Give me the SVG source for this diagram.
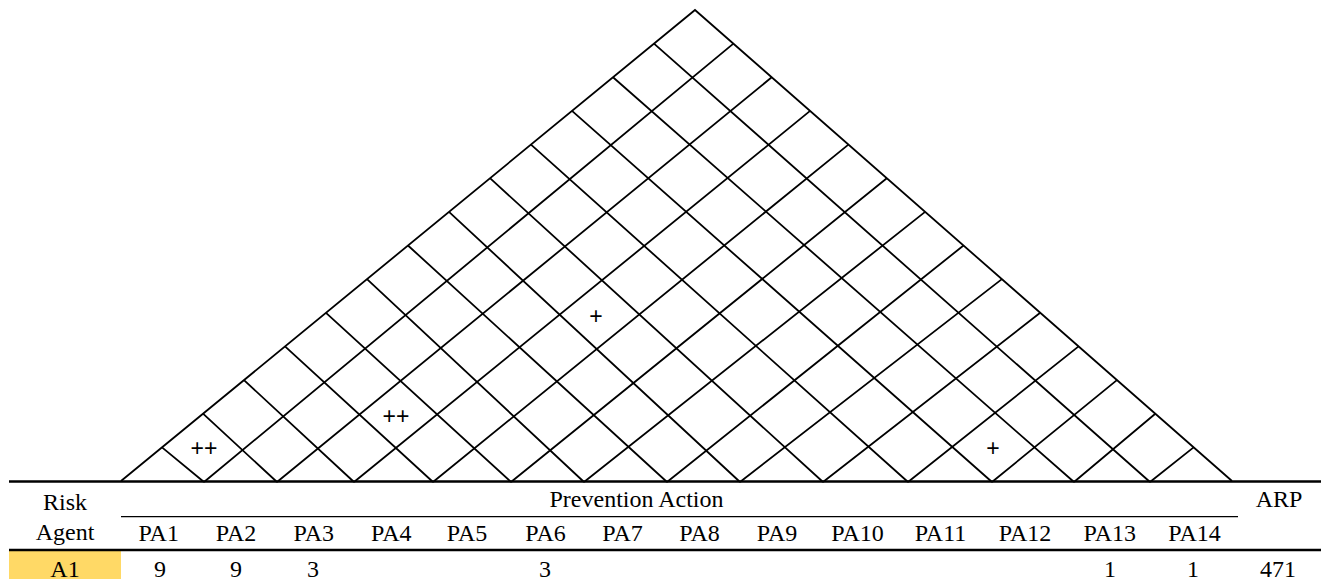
<svg xmlns="http://www.w3.org/2000/svg" width="1321" height="579" viewBox="0 0 1321 579">
<style>
.g{stroke:#000;stroke-width:1.8;fill:none;stroke-linecap:butt}
.thick{stroke:#000;stroke-width:2.4}
.thin{stroke:#000;stroke-width:1.2}
</style>
<rect x="0" y="0" width="1321" height="579" fill="#fff"/>
<g id="roof">
<path class="g" d="M121,481 L695,10 L1232,481"/>
<g id="roof-lines" class="g">
<path d="M204,482 L162,447.4 M204,482 L733.4,43.6"/>
<path d="M277,482 L203,413.7 M277,482 L771.7,77.3"/>
<path d="M354,482 L244,380.1 M354,482 L810.1,110.9"/>
<path d="M433,482 L285,346.4 M433,482 L848.4,144.6"/>
<path d="M511,482 L326,312.8 M511,482 L886.8,178.2"/>
<path d="M584,482 L367,279.1 M584,482 L925.1,211.9"/>
<path d="M667,482 L408,245.5 M667,482 L963.5,245.5"/>
<path d="M740,482 L449,211.9 M740,482 L1001.9,279.1"/>
<path d="M823,482 L490,178.2 M823,482 L1040.2,312.8"/>
<path d="M908,482 L531,144.6 M908,482 L1078.6,346.4"/>
<path d="M992,482 L572,110.9 M992,482 L1116.9,380.1"/>
<path d="M1074,482 L613,77.3 M1074,482 L1155.3,413.7"/>
<path d="M1150,482 L654,43.6 M1150,482 L1193.6,447.4"/>
</g>
<g id="roof-marks" font-family="Liberation Sans, Arial, sans-serif" font-size="23" fill="#000" text-anchor="middle">
<text x="204" y="456">++</text>
<text x="396" y="424">++</text>
<text x="596" y="324">+</text>
<text x="993" y="456">+</text>
</g>
</g>
<g id="table" font-family="Liberation Serif, Times New Roman, serif" font-size="24" fill="#000" text-anchor="middle">
<rect x="9" y="551" width="112" height="28" fill="#FFD966"/>
<line class="thick" x1="9" y1="481.5" x2="1321" y2="481.5"/>
<line class="thin" x1="121" y1="516.7" x2="1238" y2="516.7"/>
<line class="thick" x1="9" y1="550" x2="1321" y2="550"/>
<g id="header">
<text x="65" y="510">Risk</text>
<text x="65" y="540">Agent</text>
<text x="636.5" y="507">Prevention Action</text>
<text x="1279" y="507">ARP</text>
<text x="158.7" y="541">PA1</text>
<text x="236" y="541">PA2</text>
<text x="313.8" y="541">PA3</text>
<text x="391.3" y="541">PA4</text>
<text x="467" y="541">PA5</text>
<text x="545.5" y="541">PA6</text>
<text x="622.5" y="541">PA7</text>
<text x="699.5" y="541">PA8</text>
<text x="777" y="541">PA9</text>
<text x="857.5" y="541">PA10</text>
<text x="940.5" y="541">PA11</text>
<text x="1025" y="541">PA12</text>
<text x="1109.8" y="541">PA13</text>
<text x="1194.5" y="541">PA14</text>
</g>
<g id="row-A1">
<text x="65" y="577">A1</text>
<text x="160" y="577">9</text>
<text x="236" y="577">9</text>
<text x="313" y="577">3</text>
<text x="545" y="577">3</text>
<text x="1110" y="577">1</text>
<text x="1193" y="577">1</text>
<text x="1278" y="577">471</text>
</g>
</g>
</svg>
